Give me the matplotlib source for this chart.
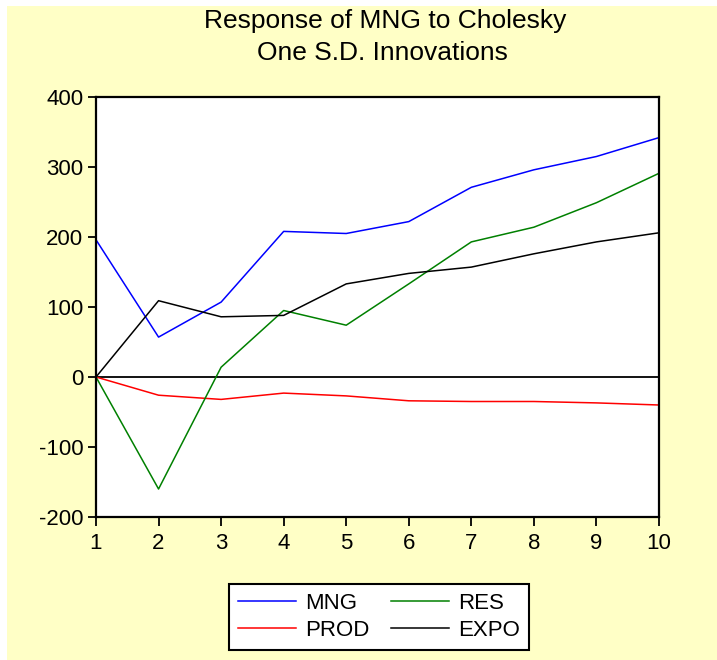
import matplotlib
matplotlib.use('Agg')
import matplotlib.pyplot as plt
from matplotlib.patches import Rectangle

# impulse responses
periods = [1, 2, 3, 4, 5, 6, 7, 8, 9, 10]
mng = [196, 57, 107, 208, 205, 222, 271, 296, 315, 342]
prod = [0, -26, -32, -23, -27, -34, -35, -35, -37, -40]
res = [0, -160, 14, 95, 74, 133, 193, 214, 249, 291]
expo = [0, 109, 86, 88, 133, 148, 157, 176, 193, 206]

yticks = [-200, -100, 0, 100, 200, 300, 400]
bg = '#FFFFC6'

plt.rcParams['font.family'] = ['Liberation Sans', 'DejaVu Sans']
plt.rcParams['axes.unicode_minus'] = False

fig = plt.figure(figsize=(7.17, 6.6), dpi=100)
fig.patch.set_facecolor('white')
# yellow panel, leaving a thin white strip at the left and top
fig.patches.append(Rectangle((7 / 717, 0), 1, 1 - 6 / 660,
                             transform=fig.transFigure, facecolor=bg,
                             edgecolor='none', zorder=-10))

ax = fig.add_axes([96 / 717, 1 - 517 / 660, 563 / 717, 420 / 660])
ax.set_facecolor('white')

ax.plot(periods, mng, color='#0000FF', lw=1.1, label='MNG')
ax.plot(periods, prod, color='#FF0000', lw=1.1, label='PROD')
ax.plot(periods, res, color='#008000', lw=1.1, label='RES')
ax.plot(periods, expo, color='black', lw=1.1, label='EXPO')
ax.axhline(0, color='black', lw=1.3, zorder=1)

ax.set_xlim(1, 10)
ax.set_ylim(-200, 400)
ax.set_xticks(periods)
ax.set_yticks(yticks)
ax.tick_params(direction='out', width=1.3, labelsize=16)
ax.tick_params(axis='y', length=5.5, pad=3.5)
ax.tick_params(axis='x', length=6.5, pad=5)
for s in ax.spines.values():
    s.set_linewidth(1.6)

fig.text(385 / 717, 1 - 28 / 660, 'Response of MNG to Cholesky',
         ha='center', va='baseline', fontsize=19)
fig.text(382 / 717, 1 - 60 / 660, 'One S.D. Innovations',
         ha='center', va='baseline', fontsize=19)

h, l = ax.get_legend_handles_labels()
leg = fig.legend(h, l, ncol=2,
                 loc='center', bbox_to_anchor=(379 / 717, 1 - 617 / 660),
                 fontsize=16, frameon=True, fancybox=False,
                 handlelength=2.6, handletextpad=0.4, columnspacing=1.0,
                 labelspacing=0.25, borderpad=0.4)
leg.get_frame().set_edgecolor('black')
leg.get_frame().set_linewidth(1.5)
leg.get_frame().set_facecolor('white')
leg.get_frame().set_alpha(1)

fig.savefig('out.png', dpi=100, facecolor=fig.get_facecolor())
